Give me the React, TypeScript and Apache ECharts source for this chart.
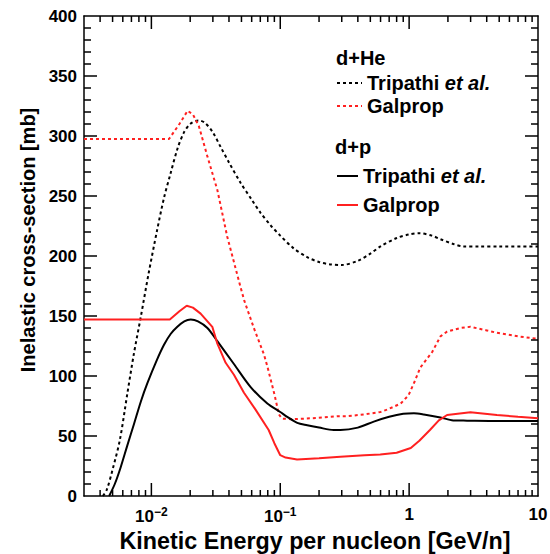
import React, { useEffect, useRef } from "react";
import * as echarts from "echarts";

// Kinetic energy per nucleon [GeV/n] and inelastic cross-section [mb]
const tripathiHeE = [0.0042, 0.0045, 0.005, 0.0057, 0.0065, 0.0073, 0.0083, 0.0095, 0.0111, 0.0125, 0.0141, 0.016, 0.0179, 0.02, 0.0232, 0.026, 0.03, 0.0344, 0.04, 0.0492, 0.06, 0.0703, 0.085, 0.1, 0.125, 0.162, 0.2, 0.245, 0.3, 0.4, 0.5, 0.6, 0.8, 1.0, 1.2, 1.5, 1.75, 2.2, 2.63, 3.5, 5, 10];
const tripathiHeXs = [0, 5, 22, 47, 85, 118, 150, 185, 222, 248, 269, 290, 303, 310, 313, 311, 303, 291, 278, 261, 247, 236, 225, 217, 207, 199, 195, 193, 192.5, 196, 202, 208, 215, 218, 219, 217, 214, 210, 208, 208, 208, 208];

const galpropHeE = [0.003, 0.0137, 0.0165, 0.0191, 0.021, 0.0234, 0.0272, 0.0325, 0.0388, 0.0492, 0.0525, 0.0624, 0.0747, 0.0794, 0.09, 0.0976, 0.103, 0.126, 0.193, 0.276, 0.33, 0.45, 0.6, 0.676, 0.86, 0.99, 1.1, 1.22, 1.51, 1.75, 1.97, 2.5, 2.99, 4.0, 4.81, 7, 10];
const galpropHeXs = [297.5, 297.5, 310, 321, 318, 308, 283, 255, 216, 174, 163, 140, 118, 108, 85, 68, 64.5, 64, 65, 66.5, 66.5, 68, 70, 72, 77, 84, 95, 107, 120, 133, 137, 140, 141, 138, 136, 133, 131];

const tripathiPE = [0.0047, 0.0052, 0.00578, 0.0065, 0.00733, 0.0083, 0.00931, 0.011, 0.01253, 0.0141, 0.0159, 0.018, 0.0202, 0.023, 0.0272, 0.0325, 0.0437, 0.0587, 0.0794, 0.1, 0.1132, 0.1355, 0.162, 0.2, 0.26, 0.293, 0.4, 0.532, 0.7, 0.9, 1.09, 1.3, 1.75, 2.2, 2.82, 5, 10];
const tripathiPXs = [0, 10, 24, 42, 60, 79, 94, 113, 126, 135, 141, 145.5, 147, 145.5, 140, 129, 110, 91, 77, 70, 66, 61, 59, 57, 55, 55, 57, 62, 66, 68.5, 69, 68, 65.5, 63, 62.8, 62.5, 62.5];

const galpropPE = [0.003, 0.0139, 0.0165, 0.0188, 0.021, 0.0241, 0.0297, 0.0325, 0.0377, 0.0437, 0.0523, 0.0643, 0.0813, 0.09, 0.1, 0.11, 0.135, 0.2, 0.293, 0.45, 0.597, 0.8, 1.03, 1.2, 1.45, 1.7, 1.97, 2.99, 4.8, 7, 10];
const galpropPXs = [147, 147, 154, 158.6, 157, 152, 141, 127, 111, 101, 86, 72, 55, 44, 34, 32, 30.5, 31.5, 32.7, 34, 34.5, 36, 40, 46, 55, 63, 67.5, 69.7, 67.5, 66, 64.7];

const X_MIN = 0.003;
const X_MAX = 10;
const Y_MIN = 0;
const Y_MAX = 400;
const Y_STEP = 50;
const Y_MINOR_STEP = 10;

const FONT = "'Liberation Sans', Arial, Helvetica, sans-serif";
const RED = "#ff2020";
const MAJOR_LEN = 13;
const MINOR_X_LEN = 6;
const MINOR_Y_LEN = 7;
const TICK_W = 1.5;

// frame tick marks: [x, y, dx(px), dy(px)] pointing inward from each side of the frame
const frameTicks: number[][] = [];
for (let e = -3; e <= 1; e++) {
  for (let m = 1; m <= 9; m++) {
    const v = m * Math.pow(10, e);
    if (v <= X_MIN || v >= X_MAX) continue;
    const len = m === 1 ? MAJOR_LEN : MINOR_X_LEN;
    frameTicks.push([v, Y_MIN, 0, -len]);
    frameTicks.push([v, Y_MAX, 0, len]);
  }
}
for (let y = Y_MIN + Y_MINOR_STEP; y < Y_MAX; y += Y_MINOR_STEP) {
  const len = y % Y_STEP === 0 ? MAJOR_LEN : MINOR_Y_LEN;
  frameTicks.push([X_MIN, y, len, 0]);
  frameTicks.push([X_MAX, y, -len, 0]);
}

const zip = (xs: number[], ys: number[]) => xs.map((x, i) => [x, ys[i]]);

export default function App() {
  const ref = useRef<HTMLDivElement>(null);

  useEffect(() => {
    if (!ref.current) return;
    const chart = echarts.init(ref.current, null, { renderer: "svg" });

    const axisLine = { show: true, onZero: false, lineStyle: { color: "#000", width: 1.5 } };

    const legendText = (x: number, y: number, text: string) => ({
      type: "text",
      x,
      y,
      style: {
        text,
        fill: "#000",
        fontFamily: FONT,
        fontWeight: "bold",
        fontSize: 20,
        verticalAlign: "middle",
        align: "left",
        rich: {
          n: { fontFamily: FONT, fontWeight: "bold", fontSize: 20, fill: "#000" },
          i: { fontFamily: FONT, fontWeight: "bold", fontStyle: "italic", fontSize: 20, fill: "#000" },
        },
      },
    });
    const legendLine = (x1: number, x2: number, y: number, color: string, dash: boolean) => ({
      type: "line",
      shape: { x1, y1: y, x2, y2: y },
      style: { stroke: color, lineWidth: 2, lineDash: dash ? [3, 3] : null },
    });

    chart.setOption({
      animation: false,
      backgroundColor: "#fff",
      grid: { left: 84, top: 16, right: 12, bottom: 58, containLabel: false, outerBoundsMode: "none" },
      xAxis: [
        {
          type: "log",
          logBase: 10,
          min: X_MIN,
          max: X_MAX,
          position: "bottom",
          axisLine,
          axisTick: { show: false },
          splitLine: { show: false },
          axisLabel: {
            showMinLabel: false,
            showMaxLabel: true,
            margin: 10,
            color: "#000",
            fontFamily: FONT,
            fontWeight: "bold",
            fontSize: 17,
            formatter: (v: number) => {
              const e = Math.round(Math.log10(v));
              if (e === 0) return "{b|1}";
              if (e === 1) return "{b|10}";
              return "{b|10}{s|\u2212" + -e + "}";
            },
            rich: {
              b: { fontFamily: FONT, fontWeight: "bold", fontSize: 17, color: "#000" },
              s: { fontFamily: FONT, fontWeight: "bold", fontSize: 12, color: "#000", padding: [0, 0, 9, 0] },
            },
          },
          name: "Kinetic Energy per nucleon [GeV/n]",
          nameLocation: "middle",
          nameGap: 31,
          nameTextStyle: { color: "#000", fontFamily: FONT, fontWeight: "bold", fontSize: 23.3, padding: [0, 0, 0, 8] },
        },
        {
          type: "log",
          logBase: 10,
          min: X_MIN,
          max: X_MAX,
          position: "top",
          axisLine,
          axisTick: { show: false },
          axisLabel: { show: false },
          splitLine: { show: false },
        },
      ],
      yAxis: [
        {
          type: "value",
          min: Y_MIN,
          max: Y_MAX,
          interval: Y_STEP,
          position: "left",
          axisLine,
          axisTick: { show: false },
          splitLine: { show: false },
          axisLabel: { margin: 7, color: "#000", fontFamily: FONT, fontWeight: "bold", fontSize: 17 },
        },
        {
          type: "value",
          min: Y_MIN,
          max: Y_MAX,
          interval: Y_STEP,
          position: "right",
          axisLine,
          axisTick: { show: false },
          splitLine: { show: false },
          axisLabel: { show: false },
        },
      ],
      series: [
        {
          // tick marks as thin filled bars, positioned through the grid's scales
          name: "frame ticks",
          type: "custom",
          coordinateSystem: "cartesian2d",
          xAxisIndex: 0,
          yAxisIndex: 0,
          silent: true,
          clip: false,
          z: 10,
          data: frameTicks,
          renderItem: (_params: any, api: any) => {
            const p = api.coord([api.value(0), api.value(1)]);
            const px = Number(p[0]);
            const py = Number(p[1]);
            const dx = Number(api.value(2));
            const dy = Number(api.value(3));
            const vertical = dx === 0;
            const shape = vertical
              ? { x: px - TICK_W / 2, y: Math.min(py, py + dy), width: TICK_W, height: Math.abs(dy) }
              : { x: Math.min(px, px + dx), y: py - TICK_W / 2, width: Math.abs(dx), height: TICK_W };
            return { type: "rect", shape, style: { fill: "#000" } };
          },
        },
        {
          name: "d+He Tripathi",
          type: "line",
          data: zip(tripathiHeE, tripathiHeXs),
          showSymbol: false,
          smooth: 0.3,
          lineStyle: { color: "#000", width: 2, type: [3, 3] },
        },
        {
          name: "d+He Galprop",
          type: "line",
          data: zip(galpropHeE, galpropHeXs),
          showSymbol: false,
          lineStyle: { color: RED, width: 2, type: [3, 3] },
        },
        {
          name: "d+p Tripathi",
          type: "line",
          data: zip(tripathiPE, tripathiPXs),
          showSymbol: false,
          smooth: 0.3,
          lineStyle: { color: "#000", width: 2 },
        },
        {
          name: "d+p Galprop",
          type: "line",
          data: zip(galpropPE, galpropPXs),
          showSymbol: false,
          lineStyle: { color: RED, width: 2 },
        },
      ],
      graphic: [
        {
          type: "text",
          x: 28,
          y: 240,
          rotation: Math.PI / 2,
          style: {
            text: "Inelastic cross-section [mb]",
            fill: "#000",
            fontFamily: FONT,
            fontWeight: "bold",
            fontSize: 20,
            align: "center",
            verticalAlign: "middle",
          },
        },
        legendText(336, 58, "d+He"),
        legendLine(337, 362, 83, "#000", true),
        legendText(367, 83, "{n|Tripathi }{i|et al.}"),
        legendLine(337, 362, 106, RED, true),
        legendText(367, 106, "Galprop"),
        legendText(335, 147, "d+p"),
        legendLine(337, 358, 176, "#000", false),
        legendText(363, 176, "{n|Tripathi }{i|et al.}"),
        legendLine(337, 358, 205, RED, false),
        legendText(363, 205, "Galprop"),
      ],
    });

    return () => chart.dispose();
  }, []);

  return (
    <div
      ref={ref}
      style={{ position: "fixed", left: 0, top: 0, width: 550, height: 554, background: "#fff" }}
    />
  );
}
